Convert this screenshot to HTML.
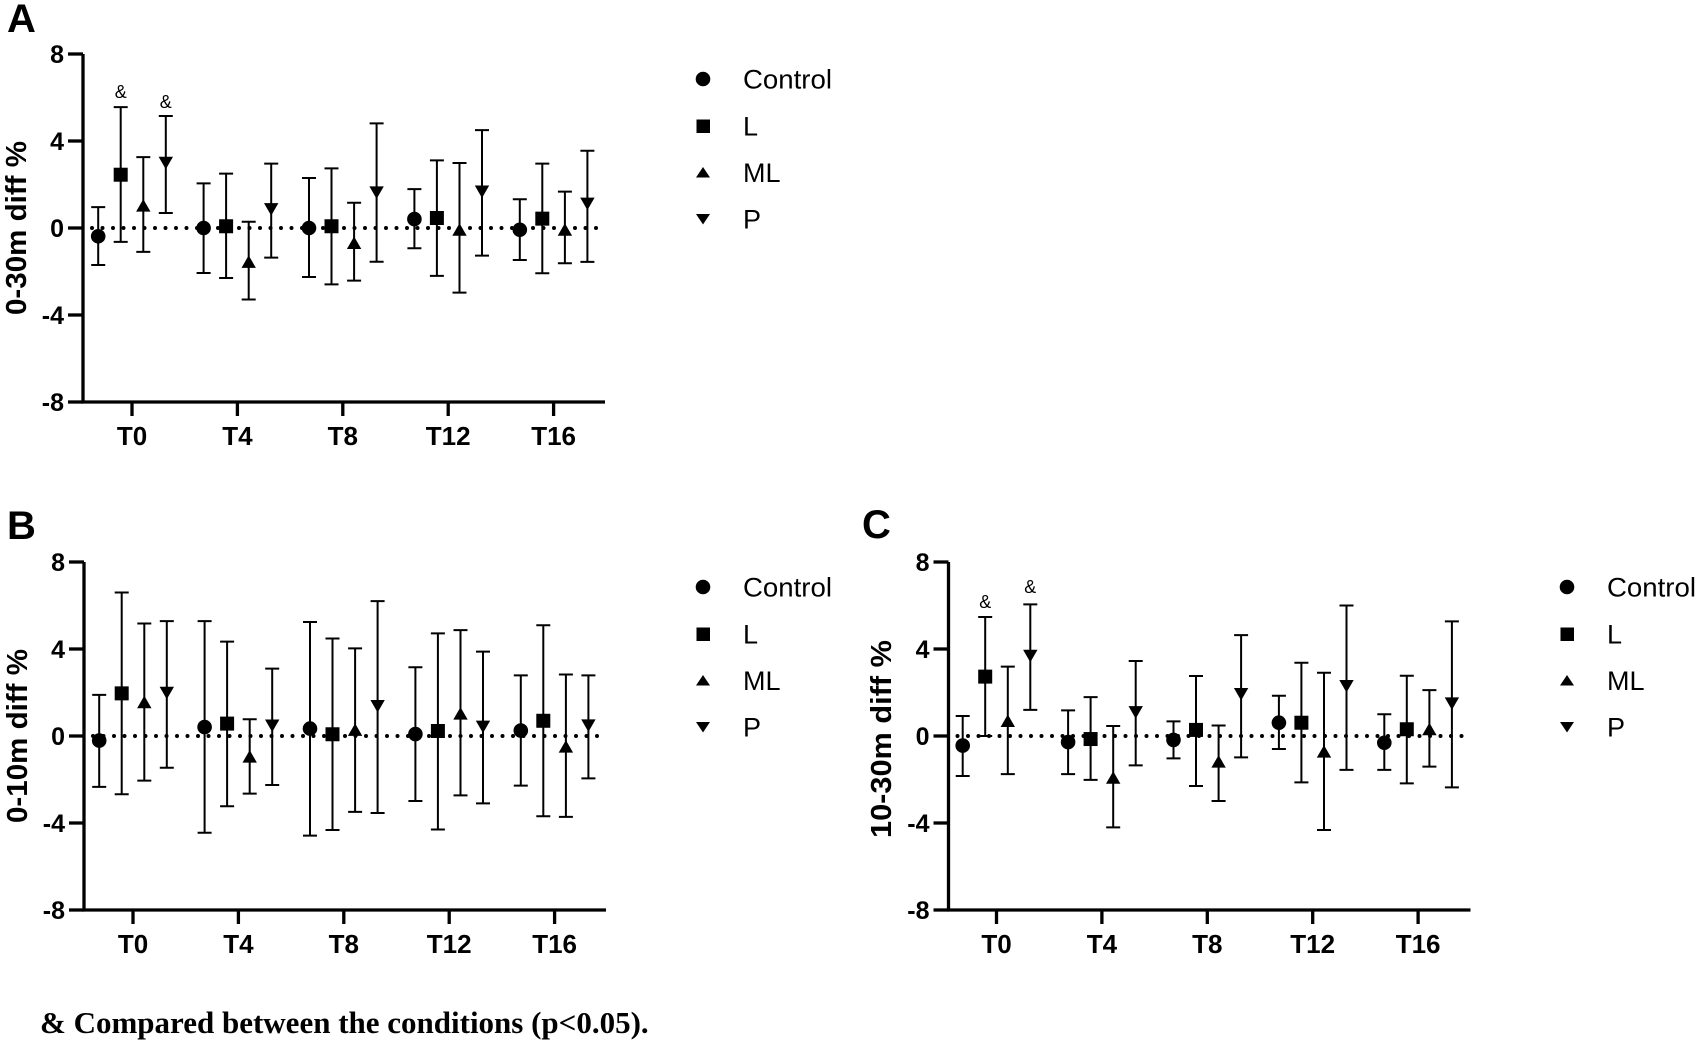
<!DOCTYPE html>
<html>
<head>
<meta charset="utf-8">
<style>
html,body{margin:0;padding:0;background:#fff;}
svg{display:block;}
.lbl{font-family:"Liberation Sans",Arial,sans-serif;font-weight:bold;fill:#000;}
.leg{font-family:"Liberation Sans",Arial,sans-serif;font-size:27px;fill:#000;}
.amp{font-family:"Liberation Sans",Arial,sans-serif;font-size:18px;fill:#000;}
.foot{font-family:"Liberation Serif","Times New Roman",serif;font-weight:bold;font-size:31px;fill:#000;}
</style>
</head>
<body>
<svg id="s" width="1698" height="1048" viewBox="0 0 1698 1048">
<rect x="0" y="0" width="1698" height="1048" fill="#fff"/>
<text class="lbl" x="7" y="32" font-size="40">A</text>
<text class="lbl" x="7" y="539" font-size="40">B</text>
<text class="lbl" x="862" y="538" font-size="40">C</text>
<text class="lbl" font-size="29" text-anchor="middle" textLength="174" lengthAdjust="spacingAndGlyphs" transform="translate(26,228) rotate(-90)">0-30m diff %</text>
<text class="lbl" font-size="29" text-anchor="middle" textLength="174" lengthAdjust="spacingAndGlyphs" transform="translate(27,736) rotate(-90)">0-10m diff %</text>
<text class="lbl" font-size="29" text-anchor="middle" textLength="198" lengthAdjust="spacingAndGlyphs" transform="translate(891,739) rotate(-90)">10-30m diff %</text>
<g>
<circle cx="703" cy="79" r="7.3"/>
<rect x="696.5" y="119.5" width="13.5" height="13.5"/>
<polygon points="703,167 696,177.5 710,177.5"/>
<polygon points="696,214 710,214 703,224.5"/>
<text class="leg" x="743" y="88.5" textLength="89" lengthAdjust="spacingAndGlyphs">Control</text>
<text class="leg" x="743" y="135.5">L</text>
<text class="leg" x="743" y="182">ML</text>
<text class="leg" x="743" y="228.5">P</text>
</g>
<g transform="translate(0,508)">
<circle cx="703" cy="79" r="7.3"/>
<rect x="696.5" y="119.5" width="13.5" height="13.5"/>
<polygon points="703,167 696,177.5 710,177.5"/>
<polygon points="696,214 710,214 703,224.5"/>
<text class="leg" x="743" y="88.5" textLength="89" lengthAdjust="spacingAndGlyphs">Control</text>
<text class="leg" x="743" y="135.5">L</text>
<text class="leg" x="743" y="182">ML</text>
<text class="leg" x="743" y="228.5">P</text>
</g>
<g transform="translate(864,508)">
<circle cx="703" cy="79" r="7.3"/>
<rect x="696.5" y="119.5" width="13.5" height="13.5"/>
<polygon points="703,167 696,177.5 710,177.5"/>
<polygon points="696,214 710,214 703,224.5"/>
<text class="leg" x="743" y="88.5" textLength="89" lengthAdjust="spacingAndGlyphs">Control</text>
<text class="leg" x="743" y="135.5">L</text>
<text class="leg" x="743" y="182">ML</text>
<text class="leg" x="743" y="228.5">P</text>
</g>
<g class="lbl" font-size="25" text-anchor="end">
<text x="64" y="63">8</text><text x="64" y="150">4</text><text x="64" y="237">0</text><text x="64" y="324">-4</text><text x="64" y="411">-8</text>
<text x="65" y="571">8</text><text x="65" y="658">4</text><text x="65" y="745">0</text><text x="65" y="832">-4</text><text x="65" y="919">-8</text>
<text x="929.5" y="571">8</text><text x="929.5" y="658">4</text><text x="929.5" y="745">0</text><text x="929.5" y="832">-4</text><text x="929.5" y="919">-8</text>
</g>
<g class="lbl" font-size="26" text-anchor="middle">
<text x="132" y="445">T0</text><text x="237.4" y="445">T4</text><text x="342.8" y="445">T8</text><text x="448.2" y="445">T12</text><text x="553.6" y="445">T16</text>
<text x="133" y="953">T0</text><text x="238.4" y="953">T4</text><text x="343.8" y="953">T8</text><text x="449.2" y="953">T12</text><text x="554.6" y="953">T16</text>
<text x="996.5" y="953">T0</text><text x="1101.9" y="953">T4</text><text x="1207.3" y="953">T8</text><text x="1312.7" y="953">T12</text><text x="1418.1" y="953">T16</text>
</g>
<g class="amp" text-anchor="middle">
<text x="120.7" y="98">&amp;</text>
<text x="165.8" y="108">&amp;</text>
<text x="985.2" y="608">&amp;</text>
<text x="1030.3" y="593">&amp;</text>
</g>
<text class="foot" x="40" y="1033">&amp; Compared between the conditions (p&lt;0.05).</text>
</svg>
<script>
(function(){
var k=21.75, sp=105.4, offs=[-33.8,-11.3,11.3,33.8];
var P=[
{ax:83,y0:228,t0:132,d:[
[[-0.38,0.96,-1.7],[2.45,5.56,-0.64],[1.03,3.26,-1.1],[3.0,5.15,0.69]],
[[0,2.05,-2.07],[0.08,2.5,-2.3],[-1.56,0.29,-3.29],[0.87,2.96,-1.36]],
[[0,2.3,-2.25],[0.08,2.74,-2.59],[-0.69,1.16,-2.42],[1.64,4.81,-1.55]],
[[0.41,1.79,-0.93],[0.46,3.11,-2.2],[-0.08,2.99,-2.97],[1.68,4.5,-1.27]],
[[-0.08,1.32,-1.47],[0.43,2.96,-2.08],[-0.08,1.67,-1.62],[1.12,3.55,-1.56]]
]},
{ax:84,y0:736,t0:133,d:[
[[-0.21,1.89,-2.34],[1.96,6.6,-2.68],[1.55,5.17,-2.05],[1.99,5.28,-1.46]],
[[0.41,5.28,-4.45],[0.57,4.34,-3.23],[-0.95,0.77,-2.65],[0.48,3.1,-2.25]],
[[0.34,5.24,-4.58],[0.08,4.48,-4.32],[0.28,4.03,-3.49],[1.38,6.2,-3.54]],
[[0.09,3.16,-2.99],[0.23,4.72,-4.3],[1.03,4.87,-2.73],[0.43,3.88,-3.1]],
[[0.25,2.79,-2.28],[0.7,5.09,-3.69],[-0.49,2.83,-3.72],[0.49,2.79,-1.95]]
]},
{ax:948.5,y0:736,t0:996.5,d:[
[[-0.44,0.92,-1.84],[2.73,5.47,0],[0.69,3.19,-1.75],[3.69,6.05,1.2]],
[[-0.28,1.18,-1.75],[-0.14,1.79,-2.02],[-1.92,0.46,-4.2],[1.1,3.45,-1.35]],
[[-0.18,0.67,-1.03],[0.28,2.76,-2.3],[-1.18,0.48,-2.99],[1.93,4.64,-0.98]],
[[0.61,1.85,-0.6],[0.61,3.37,-2.13],[-0.72,2.91,-4.32],[2.3,6.0,-1.56]],
[[-0.31,1.0,-1.56],[0.31,2.77,-2.18],[0.31,2.11,-1.41],[1.5,5.27,-2.36]]
]}
];
var s='';
P.forEach(function(p){
  var top=p.y0-8*k, bot=p.y0+8*k, end=p.ax+522;
  s+='<path d="M'+(p.ax+9)+' '+p.y0+'H'+(end-7)+'" stroke="#000" stroke-width="4" stroke-linecap="round" stroke-dasharray="0 10.5" fill="none"/>';
  s+='<path d="M'+p.ax+' '+top+'V'+bot+'H'+end+'" fill="none" stroke="#000" stroke-width="3.3"/>';
  [8,4,0,-4,-8].forEach(function(v){
    var y=p.y0-v*k;
    s+='<path d="M'+(p.ax-15)+' '+y+'H'+p.ax+'" stroke="#000" stroke-width="3.3"/>';
  });
  for(var i=0;i<5;i++){
    var x=p.t0+i*sp;
    s+='<path d="M'+x+' '+bot+'V'+(bot+14)+'" stroke="#000" stroke-width="3.3"/>';
  }
  var mk='';
  p.d.forEach(function(g,i){
    g.forEach(function(v,j){
      var x=p.t0+i*sp+offs[j];
      var ym=p.y0-v[0]*k, yt=p.y0-v[1]*k, yb=p.y0-v[2]*k;
      s+='<path d="M'+x+' '+yt+'V'+yb+'M'+(x-7)+' '+yt+'H'+(x+7)+'M'+(x-7)+' '+yb+'H'+(x+7)+'" stroke="#000" stroke-width="2" fill="none"/>';
      if(j==0) mk+='<circle cx="'+x+'" cy="'+ym+'" r="7.3"/>';
      else if(j==1) mk+='<rect x="'+(x-7)+'" y="'+(ym-7)+'" width="14" height="14"/>';
      else if(j==2) mk+='<polygon points="'+x+','+(ym-6.5)+' '+(x-7.2)+','+(ym+6)+' '+(x+7.2)+','+(ym+6)+'"/>';
      else mk+='<polygon points="'+(x-7.2)+','+(ym-6)+' '+(x+7.2)+','+(ym-6)+' '+x+','+(ym+6.5)+'"/>';
    });
  });
  s+=mk;
});
document.getElementById('s').insertAdjacentHTML('beforeend',s);
})();
</script>
</body>
</html>
